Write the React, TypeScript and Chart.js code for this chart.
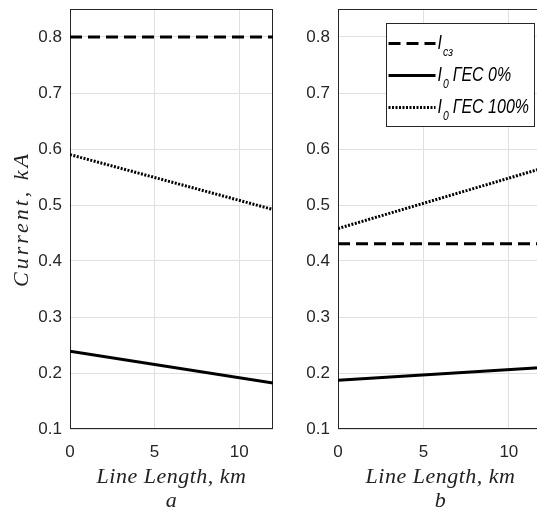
import React, { useEffect, useRef } from 'react';
import { Chart, registerables } from 'chart.js';

Chart.register(...registerables);

// ---- data ----
const xKm = [0, 12];
const leftIcz = [0.8, 0.8];
const leftI0Ges0 = [0.239, 0.182];
const leftI0Ges100 = [0.59, 0.492];
const rightIcz = [0.431, 0.431];
const rightI0Ges0 = [0.187, 0.21];
const rightI0Ges100 = [0.458, 0.566];

const xTicks = [0, 5, 10];
const xTickLabels = ['0', '5', '10'];
const yTicks = [0.1, 0.2, 0.3, 0.4, 0.5, 0.6, 0.7, 0.8];
const yTickLabels = ['0.1', '0.2', '0.3', '0.4', '0.5', '0.6', '0.7', '0.8'];

const seriesMain = ['I', 'I', 'I'];
const seriesSub = ['сз', '0', '0'];
const seriesRest = ['', 'ГЕС 0%', 'ГЕС 100%'];

const xTitle = 'Line Length, km';
const yTitle = 'Current, kA';
const panelLetters = ['a', 'b'];

// ---- styles ----
const AXIS = '#262626';
const GRID = '#e0e0e0';
const TICK_FONT = { family: '"Liberation Sans", Arial, sans-serif', size: 17 };
const SERIF = '"Liberation Serif", "Times New Roman", serif';
const LEGEND_FONT = '"Liberation Sans", Arial, sans-serif';
const LEGEND_SQUEEZE = 0.8;

const lineStyles = [
  { borderDash: [12, 6], borderWidth: 3 },
  { borderDash: [], borderWidth: 3 },
  { borderDash: [2, 1.5], borderWidth: 3 },
];

const framePlugin = {
  id: 'frame',
  beforeDatasetsDraw(chart: any) {
    const { ctx, chartArea: a } = chart;
    ctx.save();
    ctx.strokeStyle = AXIS;
    ctx.lineWidth = 1;
    ctx.setLineDash([]);
    ctx.strokeRect(a.left + 0.5, a.top + 0.5, a.right - a.left - 1, a.bottom - a.top - 1);
    ctx.restore();
  },
};

const titlesPlugin = {
  id: 'axisTitles',
  afterDraw(chart: any, _args: any, opts: any) {
    const { ctx, chartArea: a } = chart;
    ctx.save();
    ctx.fillStyle = '#222';
    ctx.textAlign = 'center';
    ctx.textBaseline = 'alphabetic';
    ctx.font = `italic 22px ${SERIF}`;
    (ctx as any).letterSpacing = '0.5px';
    const cx = (a.left + a.right) / 2;
    ctx.fillText(xTitle, cx, a.bottom + 54);
    ctx.fillText(opts.letter, cx, a.bottom + 78);
    if (opts.showY) {
      (ctx as any).letterSpacing = '3px';
      ctx.translate(a.left - 42, (a.top + a.bottom) / 2);
      ctx.rotate(-Math.PI / 2);
      ctx.fillText(yTitle, 0, 0);
    }
    ctx.restore();
  },
};

function squeezedText(ctx: any, text: string, x: number, y: number) {
  ctx.save();
  ctx.translate(x, y);
  ctx.scale(LEGEND_SQUEEZE, 1);
  ctx.fillText(text, 0, 0);
  const w = ctx.measureText(text).width * LEGEND_SQUEEZE;
  ctx.restore();
  return w;
}

const legendPlugin = {
  id: 'matLegend',
  afterDraw(chart: any, _args: any, opts: any) {
    if (!opts || !opts.show) return;
    const { ctx, chartArea: a } = chart;
    const bx = Math.round(a.left + 48) + 0.5;
    const by = Math.round(a.top + 14) + 0.5;
    const bw = 148;
    const bh = 103;
    ctx.save();
    ctx.fillStyle = '#ffffff';
    ctx.fillRect(bx, by, bw, bh);
    ctx.strokeStyle = AXIS;
    ctx.lineWidth = 1;
    ctx.setLineDash([]);
    ctx.strokeRect(bx, by, bw, bh);
    const baselines = [25, 57, 89];
    chart.data.datasets.forEach((ds: any, i: number) => {
      const base = by + baselines[i];
      const ly = base - 5;
      ctx.beginPath();
      ctx.setLineDash(ds.borderDash || []);
      ctx.lineWidth = ds.borderWidth;
      ctx.strokeStyle = ds.borderColor;
      ctx.moveTo(bx + 2, ly);
      ctx.lineTo(bx + 49, ly);
      ctx.stroke();
      ctx.setLineDash([]);
      ctx.fillStyle = '#000';
      ctx.textAlign = 'left';
      ctx.textBaseline = 'alphabetic';
      let tx = bx + 51;
      ctx.font = `italic 20px ${LEGEND_FONT}`;
      tx += squeezedText(ctx, seriesMain[i], tx, base) + 1;
      ctx.font = `italic 13px ${LEGEND_FONT}`;
      tx += squeezedText(ctx, seriesSub[i], tx, base + 7);
      if (seriesRest[i]) {
        ctx.font = `italic 20px ${LEGEND_FONT}`;
        tx += 4;
        squeezedText(ctx, seriesRest[i], tx, base);
      }
    });
    ctx.restore();
  },
};

function makeDatasets(series: number[][]) {
  return series.map((vals, i) => ({
    label: seriesMain[i] + seriesSub[i] + (seriesRest[i] ? ' ' + seriesRest[i] : ''),
    data: xKm.map((x, j) => ({ x, y: vals[j] })),
    borderColor: '#000000',
    backgroundColor: '#000000',
    borderWidth: lineStyles[i].borderWidth,
    borderDash: lineStyles[i].borderDash,
    borderCapStyle: 'butt' as const,
    pointRadius: 0,
    tension: 0,
    fill: false,
  }));
}

function findLabel(ticks: number[], labels: string[], v: number) {
  const idx = ticks.findIndex((t) => Math.abs(t - v) < 1e-9);
  return idx >= 0 ? labels[idx] : '';
}

function Panel(props: { left: number; width: number; series: number[][]; letter: string; showY: boolean; showLegend: boolean }) {
  const ref = useRef<HTMLCanvasElement>(null);
  useEffect(() => {
    const chart = new Chart(ref.current as HTMLCanvasElement, {
      type: 'line',
      data: { datasets: makeDatasets(props.series) as any },
      options: {
        animation: false,
        responsive: false,
        devicePixelRatio: 1,
        layout: { padding: { left: 0, right: 7, top: 9, bottom: 0 } },
        plugins: {
          legend: { display: false },
          tooltip: { enabled: false },
          axisTitles: { letter: props.letter, showY: props.showY },
          matLegend: { show: props.showLegend },
        } as any,
        scales: {
          x: {
            type: 'linear',
            min: 0,
            max: 12,
            afterBuildTicks: (s: any) => {
              s.ticks = xTicks.map((v) => ({ value: v }));
            },
            afterFit: (s: any) => {
              s.height = 82;
              s.paddingLeft = 0;
              s.paddingRight = 0;
            },
            ticks: {
              font: TICK_FONT,
              color: AXIS,
              padding: 13,
              maxRotation: 0,
              autoSkip: false,
              callback: (v: any) => findLabel(xTicks, xTickLabels, Number(v)),
            },
            grid: { color: GRID, drawTicks: false, lineWidth: 1 },
            border: { display: false },
          },
          y: {
            type: 'linear',
            min: 0.1,
            max: 0.85,
            afterBuildTicks: (s: any) => {
              s.ticks = yTicks.map((v) => ({ value: v }));
            },
            afterFit: (s: any) => {
              s.width = 70;
              s.paddingTop = 0;
              s.paddingBottom = 0;
            },
            ticks: {
              font: TICK_FONT,
              color: AXIS,
              padding: 8,
              autoSkip: false,
              callback: (v: any) => findLabel(yTicks, yTickLabels, Number(v)),
            },
            grid: { color: GRID, drawTicks: false, lineWidth: 1 },
            border: { display: false },
          },
        },
      },
      plugins: [framePlugin, titlesPlugin, legendPlugin],
    } as any);
    return () => chart.destroy();
  }, []);
  return (
    <canvas
      ref={ref}
      width={props.width}
      height={511}
      style={{ position: 'absolute', left: props.left, top: 0, width: props.width, height: 511 }}
    />
  );
}

export default function App() {
  return (
    <div style={{ position: 'absolute', left: 0, top: 0, width: 537, height: 511, overflow: 'hidden', background: '#fff' }}>
      <Panel left={0} width={280} series={[leftIcz, leftI0Ges0, leftI0Ges100]} letter={panelLetters[0]} showY={true} showLegend={false} />
      <Panel left={268} width={282} series={[rightIcz, rightI0Ges0, rightI0Ges100]} letter={panelLetters[1]} showY={false} showLegend={true} />
    </div>
  );
}
